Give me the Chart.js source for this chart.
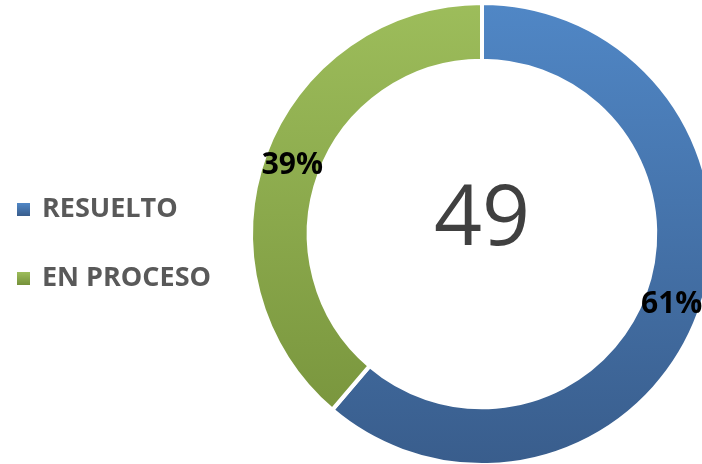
<!DOCTYPE html>
<html>
  <head>
    <meta charset="utf-8" />
    <script src="https://cdn.jsdelivr.net/npm/chart.js"></script>
    <style>
      body { margin: 0; background: #ffffff; }
      #wrap { position: relative; width: 702px; height: 464px; overflow: hidden; }
      #pie { position: absolute; left: 0; top: 0; }
      .item {
        position: absolute;
        left: 17px;
        font-family: "Open Sans", sans-serif;
        font-weight: bold;
        font-size: 27px;
        line-height: 26px;
        color: #595959;
        white-space: nowrap;
      }
      .item span.box {
        position: absolute;
        left: 0;
        width: 13px;
        height: 13px;
      }
      .item span.txt { position: absolute; left: 25px; top: 0; }
    </style>
  </head>

  <body>
    <div id="wrap">
      <canvas id="pie" width="720" height="470"></canvas>
      <div id="legend"></div>
    </div>
  </body>

  <script>
    // data
    var labels = ["RESUELTO", "EN PROCESO"];
    var values = [30, 19];
    var topColours = ["#5087c6", "#9dbd5b"];
    var bottomColours = ["#395d8c", "#75913a"];

    // html legend (kept as text)
    var legendTops = [194, 263];
    var legend = document.getElementById("legend");
    for (let i = 0; i < labels.length; i++) {
      var item = document.createElement("div");
      item.className = "item";
      item.style.top = legendTops[i] + "px";
      item.innerHTML =
        '<span class="box" style="top:9px;background:linear-gradient(' +
        topColours[i] + "," + bottomColours[i] + ')"></span><span class="txt">' +
        labels[i] + "</span>";
      legend.appendChild(item);
    }

    function segmentFill(context) {
      var chart = context.chart;
      var area = chart.chartArea;
      if (!area) return topColours[context.dataIndex];
      var g = chart.ctx.createLinearGradient(0, area.top, 0, area.bottom);
      g.addColorStop(0, topColours[context.dataIndex]);
      g.addColorStop(1, bottomColours[context.dataIndex]);
      return g;
    }

    // percentage labels on each ring segment + total in the middle
    var ringText = {
      id: "ringText",
      afterDatasetsDraw(chart) {
        var ctx = chart.ctx;
        var meta = chart.getDatasetMeta(0);
        var total = values.reduce((a, b) => a + b, 0);
        ctx.save();
        ctx.fillStyle = "#000000";
        ctx.font = "bold 30px 'Open Sans'";
        ctx.textAlign = "center";
        ctx.textBaseline = "middle";
        meta.data.forEach((arc, i) => {
          var p = arc.tooltipPosition();
          ctx.fillText(Math.round((values[i] / total) * 100) + "%", p.x, p.y + 1);
        });
        var c = meta.data[0];
        ctx.fillStyle = "#404040";
        ctx.font = "84px 'Open Sans'";
        ctx.textBaseline = "alphabetic";
        ctx.fillText(String(total), c.x, c.y + 11);
        ctx.restore();
      },
    };

    const ctx = document.getElementById("pie").getContext("2d");
    const chart = new Chart(ctx, {
      type: "doughnut",
      data: {
        labels: labels,
        datasets: [
          {
            data: values,
            backgroundColor: segmentFill,
            borderColor: "#ffffff",
            borderWidth: 4,
          },
        ],
      },
      options: {
        responsive: false,
        animation: false,
        cutout: "75%",
        layout: { padding: { left: 249, right: 5, top: 1, bottom: 3 } },
        plugins: {
          legend: { display: false },
          tooltip: { enabled: false },
        },
      },
      plugins: [ringText],
    });
  </script>
</html>
